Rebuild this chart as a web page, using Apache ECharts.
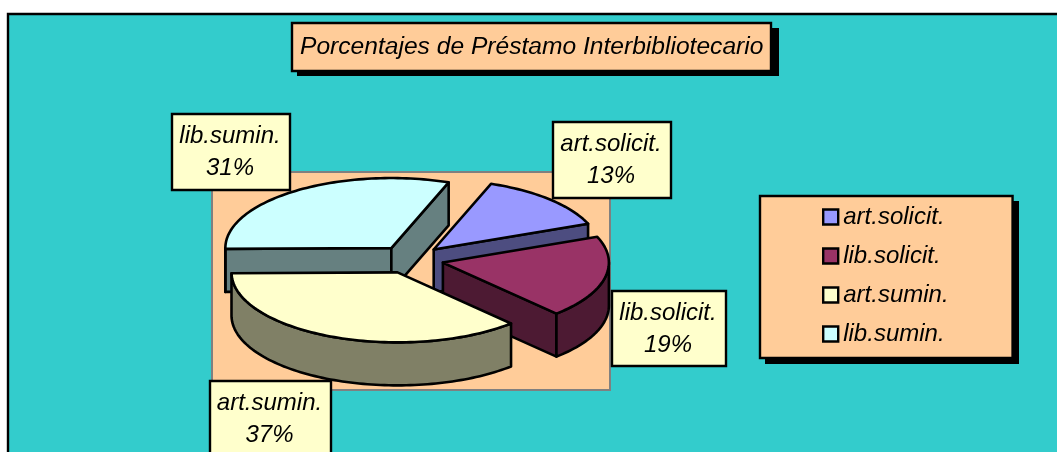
<!DOCTYPE html>
<html><head><meta charset="utf-8">
<style>html,body{margin:0;padding:0;background:#fff}#c{width:1057px;height:452px}</style>
<script src="https://cdn.jsdelivr.net/npm/echarts@6/dist/echarts.min.js"></script>
</head><body><div id="c"></div>
<script>
const titleText = 'Porcentajes de Préstamo Interbibliotecario';
const categories = ['art.solicit.', 'lib.solicit.', 'art.sumin.', 'lib.sumin.'];
const values = [13.4, 19.0, 36.8, 30.8];
const topColors = ['#9999FF', '#993366', '#FFFFCC', '#CCFFFF'];
const sideColors = ['#4D4D80', '#4D1A33', '#808066', '#668080'];
const drawOrder = [3, 0, 1, 2];
const labelBoxes = [[553,122,118,76],[612,291,114,75],[210,381,121,90],[172,114,118,76]];

const FONT = '"Liberation Sans", Arial, sans-serif';
const CX = 410.5, CY = 259.5, RX = 166, RY = 70, DEPTH = 43, EXPLODE = 0.2, START = 69.8;
const total = values.reduce((a, b) => a + b, 0);
const rad = d => d * Math.PI / 180;

// slice angle range, clockwise on screen
const ranges = [];
values.reduce((t, v) => { const e = t - v / total * 360; ranges.push([t, e]); return e; }, START);

function slicePaths(i) {
  const [a0, a1] = ranges[i];
  const mid = rad((a0 + a1) / 2);
  const ax = CX + EXPLODE * RX * Math.cos(mid), ay = CY - EXPLODE * RY * Math.sin(mid);
  const pt = (deg, dz) => [ax + RX * Math.cos(rad(deg)), ay - RY * Math.sin(rad(deg)) + (dz || 0)];
  const arc = (from, to, dz) => {
    const n = Math.max(2, Math.ceil(Math.abs(from - to) / 1.5)), out = [];
    for (let k = 0; k <= n; k++) out.push(pt(from + (to - from) * k / n, dz));
    return out;
  };
  const faces = [];
  const radial = deg => [[ax, ay], pt(deg), pt(deg, DEPTH), [ax, ay + DEPTH]];
  if (Math.cos(rad(a0)) < 0) faces.push(radial(a0));
  if (Math.cos(rad(a1)) > 0) faces.push(radial(a1));
  // visible outer wall: the part of the arc on the front half (-180..0, also -540..-360)
  [[0, -180], [-360, -540]].forEach(([hi, lo]) => {
    const f = Math.min(a0, hi), t = Math.max(a1, lo);
    if (f > t) faces.push(arc(f, t, 0).concat(arc(t, f, DEPTH)));
  });
  return { faces, top: [[ax, ay]].concat(arc(a0, a1, 0)) };
}

const lineStyleOf = { stroke: '#000', lineWidth: 2.6, lineJoin: 'round' };
const series = drawOrder.map((idx, order) => ({
  type: 'custom',
  name: categories[idx],
  coordinateSystem: 'none',
  silent: true,
  animation: false,
  z: 10 + order,
  itemStyle: { color: topColors[idx] },
  data: [values[idx]],
  renderItem() {
    const p = slicePaths(idx);
    const children = p.faces.map(points => ({
      type: 'polygon', shape: { points }, style: { fill: sideColors[idx], ...lineStyleOf }
    }));
    children.push({ type: 'polygon', shape: { points: p.top }, style: { fill: topColors[idx], ...lineStyleOf } });
    return { type: 'group', children };
  }
}));

const graphics = [
  { type: 'rect', z: 0, shape: { x: 8, y: 14, width: 1100, height: 500 }, style: { fill: '#33CCCC', stroke: '#000', lineWidth: 2.4 } },
  { type: 'rect', z: 1, shape: { x: 212, y: 172, width: 398, height: 218 }, style: { fill: '#FFCC99', stroke: '#808080', lineWidth: 2 } },
  { type: 'rect', z: 1, shape: { x: 297, y: 28, width: 482, height: 48 }, style: { fill: '#000' } },
  { type: 'rect', z: 1, shape: { x: 765, y: 201, width: 254, height: 163 }, style: { fill: '#000' } }
];
categories.forEach((c, i) => {
  const [x, y, w, h] = labelBoxes[i];
  graphics.push({ type: 'rect', z: 50, shape: { x, y, width: w, height: h }, style: { fill: '#FFFFCC', stroke: '#000', lineWidth: 2.4 } });
  graphics.push({ type: 'text', z: 51, x: x + w / 2 - 1, y: y + 38,
    style: { text: c + '\n' + Math.round(values[i]) + '%', fill: '#000', font: 'italic 24px ' + FONT, align: 'center', verticalAlign: 'middle', lineHeight: 32 } });
});

const chart = echarts.init(document.getElementById('c'), null, { renderer: 'canvas' });
chart.setOption({
  animation: false,
  backgroundColor: '#fff',
  title: {
    text: titleText, left: 292, top: 23, z: 6,
    padding: [12, 8, 11, 8],
    backgroundColor: '#FFCC99', borderColor: '#000', borderWidth: 2.4,
    textStyle: { color: '#000', fontFamily: FONT, fontStyle: 'italic', fontWeight: 'normal', fontSize: 24.6 }
  },
  legend: {
    orient: 'vertical', left: 760, top: 196, z: 6, selectedMode: false,
    padding: [9, 64, 12, 62], itemGap: 15, itemWidth: 15, itemHeight: 15, icon: 'rect',
    backgroundColor: '#FFCC99', borderColor: '#000', borderWidth: 2.4,
    itemStyle: { borderColor: '#000', borderWidth: 2.4 },
    textStyle: { color: '#000', fontFamily: FONT, fontStyle: 'italic', fontSize: 24 },
    data: categories
  },
  graphic: { elements: graphics },
  series
});
</script></body></html>
